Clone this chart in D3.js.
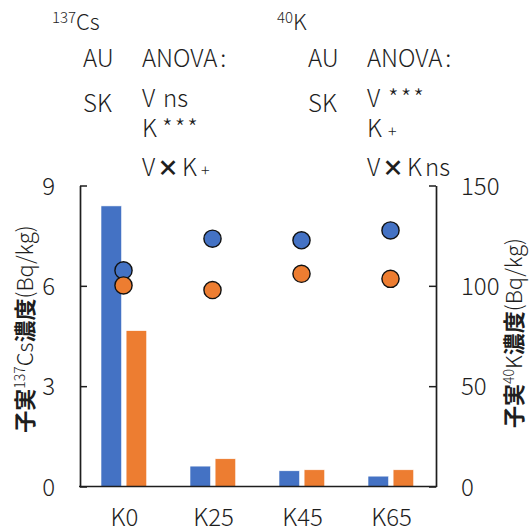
<!DOCTYPE html>
<html>
<head>
<meta charset="utf-8">
<script src="https://cdn.jsdelivr.net/npm/d3@7/dist/d3.min.js"></script>
<style>
  html, body { margin: 0; padding: 0; background: #fff; }
  svg { display: block; font-family: "Noto Sans CJK JP", "Noto Sans", sans-serif; font-weight: 300; }
</style>
</head>
<body>
<svg id="chart" width="532" height="532"></svg>
<script>
// Treatments (K application level)
const categories = ["K0", "K25", "K45", "K65"];
const varieties = ["AU", "SK"];

// 137Cs in grain (Bq/kg), bars on the left axis
const csAU = [8.39, 0.61, 0.47, 0.31];
const csSK = [4.66, 0.83, 0.50, 0.50];

// 40K in grain (Bq/kg), circles on the right axis
const kAU = [107.7, 123.5, 122.7, 127.6];
const kSK = [100.2, 97.9, 106.0, 103.5];

const leftTicks = [0, 3, 6, 9];
const rightTicks = [0, 50, 100, 150];

const colors = { AU: "#4472C4", SK: "#ED7D31" };
const ink = "#1e1e1e";

const svg = d3.select("#chart");
const plot = { left: 80, right: 436, top: 185.5, bottom: 486.5 };

const x = d3.scaleBand().domain(categories).range([plot.left, plot.right]).padding(0);
const xs = d3.scaleBand().domain(varieties).range([-23.5, 22.2]).paddingInner(0.18);
const yL = d3.scaleLinear().domain([0, 9]).range([plot.bottom, plot.top]);
const yR = d3.scaleLinear().domain([0, 150]).range([plot.bottom, plot.top]);

const cx = c => x(c) + x.bandwidth() / 2;

// bars: 137Cs
const barData = [];
categories.forEach((c, i) => {
  barData.push({ c, v: "AU", val: csAU[i] });
  barData.push({ c, v: "SK", val: csSK[i] });
});
svg.append("g").selectAll("rect").data(barData).join("rect")
  .attr("x", d => cx(d.c) + xs(d.v))
  .attr("width", xs.bandwidth())
  .attr("y", d => yL(d.val))
  .attr("height", d => yL(0) - yL(d.val))
  .attr("fill", d => colors[d.v])
  .attr("stroke", "#fff")
  .attr("stroke-width", 0.6);

// axes
const axisL = d3.axisLeft(yL).tickValues(leftTicks).tickSizeInner(-7).tickSizeOuter(0).tickPadding(25);
const axisR = d3.axisRight(yR).tickValues(rightTicks).tickSizeInner(-7).tickSizeOuter(0).tickPadding(25);
const axisB = d3.axisBottom(x).tickSize(0).tickPadding(22);

function styleAxis(g) {
  g.select(".domain").attr("stroke", ink).attr("stroke-width", 1.7);
  g.selectAll(".tick line").attr("stroke", ink).attr("stroke-width", 1.5);
  g.selectAll(".tick text")
    .attr("fill", ink)
    .style("font-size", "24px")
    .style("font-weight", 300)
    .style("font-family", "'Noto Sans CJK JP', sans-serif");
}

svg.append("g").attr("transform", `translate(${plot.left},0)`).call(axisL).call(styleAxis)
  .selectAll(".tick text").attr("dy", "0.36em");
svg.append("g").attr("transform", `translate(${plot.right},0)`).call(axisR).call(styleAxis)
  .selectAll(".tick text").attr("dy", "0.36em");
const gB = svg.append("g").attr("transform", `translate(0,${plot.bottom})`).call(axisB).call(styleAxis);
gB.select(".domain").attr("d", `M${plot.left - 1},0H${plot.right + 1}`);

// circles: 40K
const dotData = [];
categories.forEach((c, i) => {
  dotData.push({ c, v: "AU", val: kAU[i] });
  dotData.push({ c, v: "SK", val: kSK[i] });
});
svg.append("g").selectAll("circle").data(dotData).join("circle")
  .attr("cx", d => cx(d.c) - 1)
  .attr("cy", d => yR(d.val))
  .attr("r", 8.6)
  .attr("fill", d => colors[d.v])
  .attr("stroke", "#111")
  .attr("stroke-width", 1.4);

// axis titles
function axisTitle(tx, ty, iso, nuc) {
  const t = svg.append("text")
    .attr("transform", `translate(${tx},${ty}) rotate(-90)`)
    .attr("text-anchor", "middle")
    .attr("dy", "0.36em")
    .attr("fill", ink)
    .style("font-size", "22px");
  t.append("tspan").attr("font-weight", 700).text("子実");
  t.append("tspan").style("font-size", "14px").attr("dy", "-0.55em").text(iso);
  t.append("tspan").attr("dy", "0.35em").text(nuc);
  t.append("tspan").attr("font-weight", 700).text("濃度");
  t.append("tspan").text("(Bq/kg)");
}
axisTitle(25, 329, "137", "Cs");
axisTitle(514, 333, "40", "K");

// ANOVA annotations
function note(ox, iso, nuc, rows) {
  const g = svg.append("g").attr("fill", ink).style("font-size", "24px");
  const head = g.append("text").attr("x", ox - 31).attr("y", 30);
  head.append("tspan").style("font-size", "15px").attr("dy", "-7").text(iso);
  head.append("tspan").style("font-size", "22px").attr("dy", "7").text(nuc);

  g.append("text").attr("x", ox).attr("y", 66.5).text("AU");
  const an = g.append("text").attr("x", ox + 59).attr("y", 66.5);
  an.append("tspan").text("ANOVA");
  an.append("tspan").attr("dx", 3).text(":");
  g.append("text").attr("x", ox).attr("y", 112).text("SK");

  rows.forEach(r => {
    const t = g.append("text").attr("y", r.y);
    r.parts.forEach(p => {
      const s = t.append("tspan").attr("x", ox + 59 + p.dx).text(p.s);
      if (p.size) s.style("font-size", p.size + "px");
      if (p.bold) s.attr("font-weight", 900);
      if (p.ls) s.attr("letter-spacing", p.ls);
    });
  });
}

note(83, "137", "Cs", [
  { y: 107, parts: [{ s: "V", dx: 0 }, { s: "ns", dx: 21 }] },
  { y: 137, parts: [{ s: "K", dx: 0 }, { s: "***", dx: 20, size: 24, ls: 2 }] },
  { y: 176, parts: [{ s: "V", dx: 0 }, { s: "×", dx: 15, size: 22, bold: true }, { s: "K", dx: 40 }, { s: "+", dx: 59, size: 16 }] }
]);

note(308, "40", "K", [
  { y: 107, parts: [{ s: "V", dx: 0 }, { s: "***", dx: 21, size: 24, ls: 2 }] },
  { y: 137, parts: [{ s: "K", dx: 0 }, { s: "+", dx: 21, size: 16 }] },
  { y: 176, parts: [{ s: "V", dx: 0 }, { s: "×", dx: 15, size: 22, bold: true }, { s: "K", dx: 40 }, { s: "ns", dx: 58 }] }
]);
</script>
</body>
</html>
